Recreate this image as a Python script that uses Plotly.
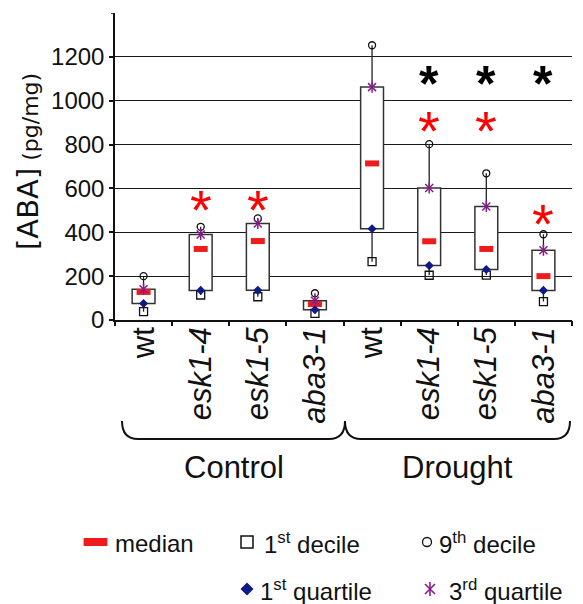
import plotly.graph_objects as go

# ---------------- data ----------------
conditions = ["Control", "Drought"]
genotypes = ["wt", "esk1-4", "esk1-5", "aba3-1"]
tick_labels = ["wt", "<i>esk1-4</i>", "<i>esk1-5</i>", "<i>aba3-1</i>",
               "wt", "<i>esk1-4</i>", "<i>esk1-5</i>", "<i>aba3-1</i>"]

decile1   = [38, 114, 106, 30, 266, 204, 205, 84]
quartile1 = [75, 135, 136, 47, 416, 248, 230, 135]
median    = [128, 324, 360, 73, 714, 359, 324, 200]
quartile3 = [140, 390, 440, 88, 1062, 602, 518, 318]
decile9   = [200, 425, 463, 122, 1253, 802, 669, 391]

# significance asterisks (value where the asterisk sits, None = no asterisk)
star_red   = [None, 547, 547, None, None, 904, 904, 479]
star_black = [None, None, None, None, None, 1109, 1109, 1109]

y_ticks = [0, 200, 400, 600, 800, 1000, 1200]
y_max = 1400

# ---------------- layout helpers ----------------
W, H = 583, 604
PL, PR, PT, PB = 115, 572, 13, 320   # plot area (pixels)


def fx(p):
    return p / W


def fy(p):
    return 1 - p / H


RED = "#ee1c1c"
NAVY = "#0d1a87"
PURPLE = "#8b1a8f"
FONT = "Liberation Sans"

xs = list(range(len(median)))

fig = go.Figure()

# whiskers
wx, wy = [], []
for i in xs:
    wx += [i, i, None, i, i, None]
    wy += [quartile3[i], decile9[i], None, quartile1[i], decile1[i], None]
fig.add_trace(go.Scatter(x=wx, y=wy, mode="lines",
                         line=dict(color="#222", width=1.3),
                         hoverinfo="skip", showlegend=False))

# boxes (1st to 3rd quartile)
fig.add_trace(go.Bar(x=xs, y=[q3 - q1 for q1, q3 in zip(quartile1, quartile3)],
                     base=quartile1, width=0.4,
                     marker=dict(color="white", line=dict(color="#333", width=1.5)),
                     hoverinfo="skip", showlegend=False))

# 1st decile
fig.add_trace(go.Scatter(x=xs, y=decile1, mode="markers",
                         marker=dict(symbol="square-open", size=8, color="#111",
                                     line=dict(width=1.3, color="#111")),
                         showlegend=False))
# 9th decile
fig.add_trace(go.Scatter(x=xs, y=decile9, mode="markers",
                         marker=dict(symbol="circle-open", size=7, color="#111",
                                     line=dict(width=1.3, color="#111")),
                         showlegend=False))
# median
fig.add_trace(go.Scatter(x=xs, y=median, mode="markers",
                         marker=dict(symbol="line-ew-open", size=10, color=RED,
                                     line=dict(width=6, color=RED)),
                         showlegend=False))
# 1st quartile
fig.add_trace(go.Scatter(x=xs, y=quartile1, mode="markers",
                         marker=dict(symbol="diamond", size=7, color=NAVY,
                                     line=dict(width=0)),
                         showlegend=False))
# 3rd quartile (Ж-shaped star: x + vertical line)
for sym in ["x-thin-open", "line-ns-open"]:
    fig.add_trace(go.Scatter(x=xs, y=quartile3, mode="markers",
                             marker=dict(symbol=sym, size=8, color=PURPLE,
                                         line=dict(width=1.5, color=PURPLE)),
                             showlegend=False))

# dummy trace for the boundary-tick axis
fig.add_trace(go.Scatter(x=[None], y=[None], xaxis="x2", yaxis="y",
                         showlegend=False, hoverinfo="skip"))

# ---------------- legend (pixel-space subplot) ----------------
LEG_TOP = 515
fig.add_trace(go.Scatter(x=[95.5], y=[542], xaxis="x3", yaxis="y3", mode="markers",
                         marker=dict(symbol="line-ew-open", size=17, color=RED,
                                     line=dict(width=8, color=RED)),
                         showlegend=False, hoverinfo="skip"))
fig.add_trace(go.Scatter(x=[247], y=[542], xaxis="x3", yaxis="y3", mode="markers",
                         marker=dict(symbol="square-open", size=12, color="#111",
                                     line=dict(width=1.5, color="#111")),
                         showlegend=False, hoverinfo="skip"))
fig.add_trace(go.Scatter(x=[427], y=[542], xaxis="x3", yaxis="y3", mode="markers",
                         marker=dict(symbol="circle-open", size=9, color="#111",
                                     line=dict(width=1.3, color="#111")),
                         showlegend=False, hoverinfo="skip"))
fig.add_trace(go.Scatter(x=[247], y=[589], xaxis="x3", yaxis="y3", mode="markers",
                         marker=dict(symbol="diamond", size=10, color=NAVY,
                                     line=dict(width=0)),
                         showlegend=False, hoverinfo="skip"))
for sym in ["x-thin-open", "line-ns-open"]:
    fig.add_trace(go.Scatter(x=[430], y=[589], xaxis="x3", yaxis="y3", mode="markers",
                             marker=dict(symbol=sym, size=10, color=PURPLE,
                                         line=dict(width=1.6, color=PURPLE)),
                             showlegend=False, hoverinfo="skip"))

legend_texts = [
    ("median", 113, 543),
    ("1<sup>st</sup> decile", 262, 543),
    ("9<sup>th</sup> decile", 437, 543),
    ("1<sup>st</sup> quartile", 258, 590),
    ("3<sup>rd</sup> quartile", 447, 590),
]

annotations = []
for txt, lx, ly in legend_texts:
    annotations.append(dict(text=txt, x=fx(lx), y=fy(ly), xref="paper", yref="paper",
                            xanchor="left", yanchor="middle", showarrow=False,
                            font=dict(family=FONT, size=24, color="#111")))

# asterisks
for i in xs:
    if star_red[i] is not None:
        annotations.append(dict(text="*", x=i, y=star_red[i], xref="x", yref="y",
                                xanchor="center", yanchor="middle",
                                showarrow=False, yshift=-9,
                                font=dict(family=FONT, size=56, color="#ff0000")))
    if star_black[i] is not None:
        annotations.append(dict(text="<b>*</b>", x=i, y=star_black[i], xref="x", yref="y",
                                xanchor="center", yanchor="middle",
                                showarrow=False, yshift=-7,
                                font=dict(family=FONT, size=50, color="#000")))

# group labels
group_px = [(122, 345), (345, 570)]
for cond, (a, b) in zip(conditions, group_px):
    annotations.append(dict(text=cond, x=fx((a + b) / 2), y=fy(467), xref="paper",
                            yref="paper", xanchor="center", yanchor="middle",
                            showarrow=False,
                            font=dict(family=FONT, size=31, color="#111")))

# y-axis title
annotations.append(dict(
    text="<span style='font-size:29px'>[ABA]</span> <span style='font-size:22px'>(pg/mg)</span>",
    x=fx(28), y=fy(162), xref="paper", yref="paper", textangle=-90,
    xanchor="center", yanchor="middle",
    showarrow=False, font=dict(family="DejaVu Sans", size=22, color="#111")))

# braces
shapes = []
BY0, BY1, BR = 421, 439, 16
for a, b in group_px:
    path = (f"M {fx(a)},{fy(BY0)} Q {fx(a)},{fy(BY1)} {fx(a + BR)},{fy(BY1)} "
            f"L {fx(b - BR)},{fy(BY1)} Q {fx(b)},{fy(BY1)} {fx(b)},{fy(BY0)}")
    shapes.append(dict(type="path", path=path, xref="paper", yref="paper",
                       line=dict(color="#111", width=2)))

# small top tick at y_max
shapes.append(dict(type="line", xref="paper", yref="y",
                   x0=fx(PL - 4), x1=fx(PL), y0=y_max, y1=y_max,
                   line=dict(color="#111", width=1.5)))

fig.update_layout(
    width=W, height=H,
    margin=dict(l=0, r=0, t=0, b=0, autoexpand=False),
    paper_bgcolor="white", plot_bgcolor="rgba(0,0,0,0)",
    showlegend=False,
    xaxis=dict(domain=[fx(PL), fx(PR)], anchor="y", range=[-0.5, 7.5],
               tickvals=xs, ticktext=tick_labels, tickangle=-90,
               ticks="", showgrid=False, zeroline=False, ticklabelstandoff=-7,
               showline=True, linecolor="#111", linewidth=1.5,
               tickfont=dict(family=FONT, size=31, color="#111"), automargin=False),
    xaxis2=dict(overlaying="x", anchor="y", side="bottom", range=[-0.5, 7.5],
                tickvals=[k - 0.5 for k in range(len(xs) + 1)], ticks="outside",
                ticklen=5, tickwidth=1.5, tickcolor="#111", showticklabels=False,
                showgrid=False, zeroline=False, showline=False),
    yaxis=dict(domain=[fy(PB), fy(PT)], anchor="x", range=[0, y_max],
               tickvals=y_ticks, ticks="outside", ticklen=4, tickwidth=1.5,
               tickcolor="#111", showgrid=True, gridcolor="#1a1a1a", gridwidth=1.3,
               zeroline=False, showline=True, linecolor="#111", linewidth=1.5,
               tickfont=dict(family=FONT, size=24, color="#111"), automargin=False),
    xaxis3=dict(domain=[0, 1], anchor="y3", range=[0, W], visible=False),
    yaxis3=dict(domain=[0, fy(LEG_TOP)], anchor="x3", range=[H, LEG_TOP], visible=False),
    annotations=annotations,
    shapes=shapes,
)

fig.write_html("out.html", config={"displayModeBar": False},
               post_script="document.body.style.margin='0';document.body.style.overflow='hidden';")
